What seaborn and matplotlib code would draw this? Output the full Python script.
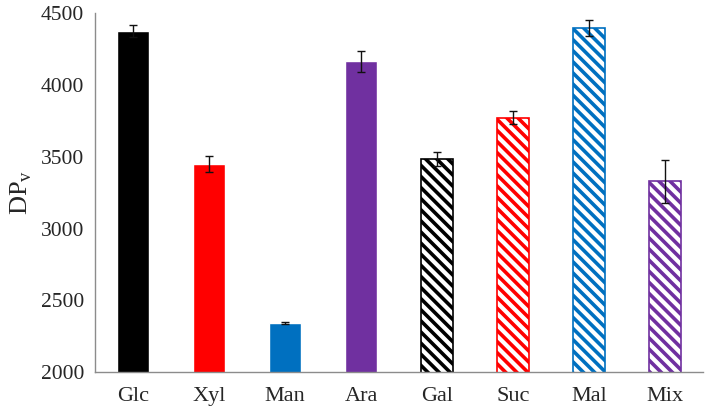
import seaborn as sns
import pandas as pd
import matplotlib.pyplot as plt

# data
sugars = ["Glc", "Xyl", "Man", "Ara", "Gal", "Suc", "Mal", "Mix"]
dpv = [4375, 3450, 2343, 4165, 3483, 3772, 4397, 3328]
dpv_err = [40, 58, 8, 72, 48, 47, 56, 150]
colors = ["#000000", "#FF0000", "#0070C0", "#7030A0",
          "#000000", "#FF0000", "#0070C0", "#7030A0"]
hatched = [False, False, False, False, True, True, True, True]

df = pd.DataFrame({"sugar": sugars, "dpv": dpv})

sns.set_style("white")
plt.rcParams["font.family"] = ["Liberation Serif", "DejaVu Serif"]
plt.rcParams["hatch.linewidth"] = 2.6

fig, ax = plt.subplots(figsize=(7.09, 4.09), dpi=100)
fig.subplots_adjust(left=0.134, right=0.992, top=0.968, bottom=0.09)

sns.barplot(data=df, x="sugar", y="dpv", hue="sugar", palette=colors,
            width=0.42, legend=False, saturation=1, ax=ax)

for patch, col, h in zip(ax.patches, colors, hatched):
    if h:
        patch.set_facecolor("white")
        patch.set_edgecolor(col)
        patch.set_hatch("\\\\\\")
        patch.set_linewidth(1.2)

ax.errorbar(range(len(sugars)), dpv, yerr=dpv_err, fmt="none",
            ecolor="#111111", elinewidth=1, capsize=3, capthick=1)

ax.set_ylim(2000, 4500)
ax.set_yticks([2000, 2500, 3000, 3500, 4000, 4500])
ax.set_xlim(-0.5, len(sugars) - 0.5)
ax.set_xlabel("")
ax.set_ylabel(r"DP$_\mathregular{v}$", fontsize=19, labelpad=5)
ax.tick_params(axis="y", labelsize=15.5, length=0, pad=8)
ax.tick_params(axis="x", labelsize=16, length=0, pad=11)

sns.despine(ax=ax, top=True, right=True)
for s in ["left", "bottom"]:
    ax.spines[s].set_color("#8c8c8c")
    ax.spines[s].set_linewidth(1)

fig.savefig("out.png", dpi=100)
